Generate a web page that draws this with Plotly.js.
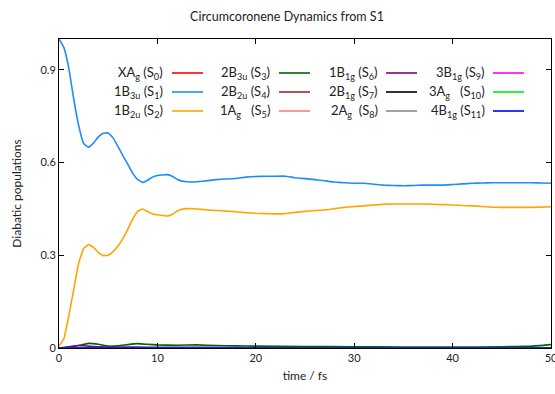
<!DOCTYPE html>
<html>
<head>
<meta charset="utf-8">
<script src="https://cdn.plot.ly/plotly-3.0.1.min.js"></script>
<style>html,body{margin:0;padding:0;background:#fff;}#chart{width:555px;height:394px;}</style>
</head>
<body>
<div id="chart"></div>
<script>
// ---- Data ----
const tMain = [0,0.5,1,1.5,2,2.5,3,3.5,4,4.5,5,5.5,6,6.5,7,7.5,8,8.5,9,9.5,10,10.5,11,11.5,12,12.5,13,13.5,14,15,16,17,18,19,20,21,22,23,24,25,26,27,28,29,30,31,32,33,34,35,36,37,38,39,40,41,42,43,44,45,46,47,48,49,50];
const popS1 = [1.0,0.972,0.905,0.805,0.72,0.662,0.65,0.663,0.683,0.695,0.696,0.68,0.652,0.622,0.594,0.565,0.545,0.536,0.543,0.553,0.558,0.560,0.561,0.556,0.546,0.540,0.538,0.537,0.538,0.541,0.545,0.547,0.549,0.553,0.555,0.556,0.556,0.556,0.551,0.548,0.545,0.541,0.537,0.535,0.533,0.533,0.530,0.527,0.526,0.525,0.526,0.527,0.527,0.527,0.529,0.531,0.533,0.534,0.535,0.535,0.535,0.535,0.535,0.534,0.533];
const popS2 = [0.006,0.03,0.105,0.19,0.275,0.322,0.335,0.326,0.309,0.299,0.300,0.312,0.33,0.355,0.385,0.418,0.442,0.450,0.442,0.434,0.431,0.429,0.427,0.432,0.443,0.449,0.451,0.451,0.450,0.447,0.445,0.443,0.441,0.438,0.436,0.435,0.434,0.435,0.439,0.442,0.445,0.447,0.451,0.455,0.458,0.460,0.463,0.465,0.466,0.466,0.466,0.466,0.465,0.464,0.463,0.461,0.460,0.458,0.456,0.455,0.455,0.455,0.455,0.456,0.457];
const tS3 = [0,1,2,3,4,5,6,7,8,9,10,12,14,16,18,20,25,30,35,40,45,48,50];
const popS3 = [0,0.002,0.008,0.015,0.012,0.006,0.007,0.011,0.014,0.012,0.010,0.009,0.010,0.008,0.007,0.006,0.005,0.004,0.003,0.003,0.004,0.006,0.011];
const tS6 = [0,1,2,3,4,6,8,10,15,20,30,40,50];
const popS6 = [0,0.004,0.008,0.006,0.004,0.003,0.003,0.002,0.002,0.001,0.001,0.001,0.001];
const tZero = [0,10,20,30,40,50];
const popZero = [0,0,0,0,0,0];

const stateLabels = [
  "XA<sub>g</sub> (S<sub>0</sub>)",
  "1B<sub>3u</sub> (S<sub>1</sub>)",
  "1B<sub>2u</sub> (S<sub>2</sub>)",
  "2B<sub>3u</sub> (S<sub>3</sub>)",
  "2B<sub>2u</sub> (S<sub>4</sub>)",
  "1A<sub>g</sub>\u00a0\u00a0 (S<sub>5</sub>)",
  "1B<sub>1g</sub> (S<sub>6</sub>)",
  "2B<sub>1g</sub> (S<sub>7</sub>)",
  "2A<sub>g</sub>\u00a0 (S<sub>8</sub>)",
  "3B<sub>1g</sub> (S<sub>9</sub>)",
  "3A<sub>g</sub>\u00a0\u00a0 (S<sub>10</sub>)",
  "4B<sub>1g</sub> (S<sub>11</sub>)"
];
const stateColors = ["#ff0000","#1e8cff","#ffa500","#006400","#a0282a","#fa8072","#800080","#000000","#8c8c8c","#ff00ff","#00ee00","#0000ff"];
const stateX = [tZero,tMain,tMain,tS3,tZero,tZero,tS6,tZero,tZero,tZero,tZero,tZero];
const stateY = [popZero,popS1,popS2,popS3,popZero,popZero,popS6,popZero,popZero,popZero,popZero,popZero];

const xTicks = [0,10,20,30,40,50];
const xTickText = ["0","10","20","30","40","50"];
const yTicks = [0,0.3,0.6,0.9];
const yTickText = ["0","0.3","0.6","0.9"];

// ---- Layout helpers ----
const W = 555, H = 394;
const mL = 59, mR = 4, mT = 39, mB = 46;
const pw = W - mL - mR, ph = H - mT - mB;
const px = x => (x - mL) / pw;
const py = y => (H - mB - y) / ph;

const traces = stateLabels.map((name, i) => ({
  x: stateX[i], y: stateY[i], type: 'scatter', mode: 'lines', name: name,
  line: {color: stateColors[i], width: 1.6, shape: 'spline', smoothing: 0.3},
  showlegend: false, hoverinfo: 'skip', cliponaxis: true
}));

// manual legend: text right-aligned, sample line to the right
const colTextRight = [165, 272, 380, 487];
const colLineStart = [172, 279, 386, 493];
const lineLen = 31;
const rowY = [73, 92, 111];
const annotations = [];
const shapes = [];
stateLabels.forEach((lab, i) => {
  const c = Math.floor(i / 3), r = i % 3;
  annotations.push({
    xref: 'paper', yref: 'paper', x: px(colTextRight[c]), y: py(rowY[r]),
    xanchor: 'right', yanchor: 'middle', text: lab, showarrow: false,
    font: {family: 'Lato, sans-serif', size: 13, color: '#222'}
  });
  shapes.push({
    type: 'line', xref: 'paper', yref: 'paper',
    x0: px(colLineStart[c]), x1: px(colLineStart[c] + lineLen), y0: py(rowY[r]), y1: py(rowY[r]),
    line: {color: stateColors[i], width: 1.6}
  });
});

const layout = {
  width: W, height: H,
  margin: {l: mL, r: mR, t: mT, b: mB, pad: 0},
  paper_bgcolor: '#fff', plot_bgcolor: '#fff',
  font: {family: 'Lato, sans-serif', size: 11, color: '#222'},
  title: {text: 'Circumcoronene Dynamics from S1', x: 287 / W, xref: 'container', xanchor: 'center',
          y: 1 - 17 / H, yref: 'container', yanchor: 'middle',
          font: {family: 'Lato, sans-serif', size: 12.5, color: '#222'}},
  xaxis: {range: [0, 50.0001], tickvals: xTicks, ticktext: xTickText, ticks: 'inside', ticklen: 5, tickcolor: '#000',
          ticklabeloverflow: 'allow',
          showline: true, linecolor: '#000', linewidth: 1, mirror: 'ticks', showgrid: false, zeroline: false,
          title: {text: 'time / fs', standoff: 8, font: {size: 12}}, tickfont: {size: 11}},
  yaxis: {range: [0, 1], tickvals: yTicks, ticktext: yTickText, ticks: 'inside', ticklen: 5, tickcolor: '#000',
          showline: true, linecolor: '#000', linewidth: 1, mirror: 'ticks', showgrid: false, zeroline: false,
          title: {text: 'Diabatic populations', standoff: 16, font: {size: 12}}, tickfont: {size: 11}},
  annotations: annotations,
  shapes: shapes,
  showlegend: false
};

Plotly.newPlot('chart', traces, layout, {staticPlot: true, displayModeBar: false});
</script>
</body>
</html>
